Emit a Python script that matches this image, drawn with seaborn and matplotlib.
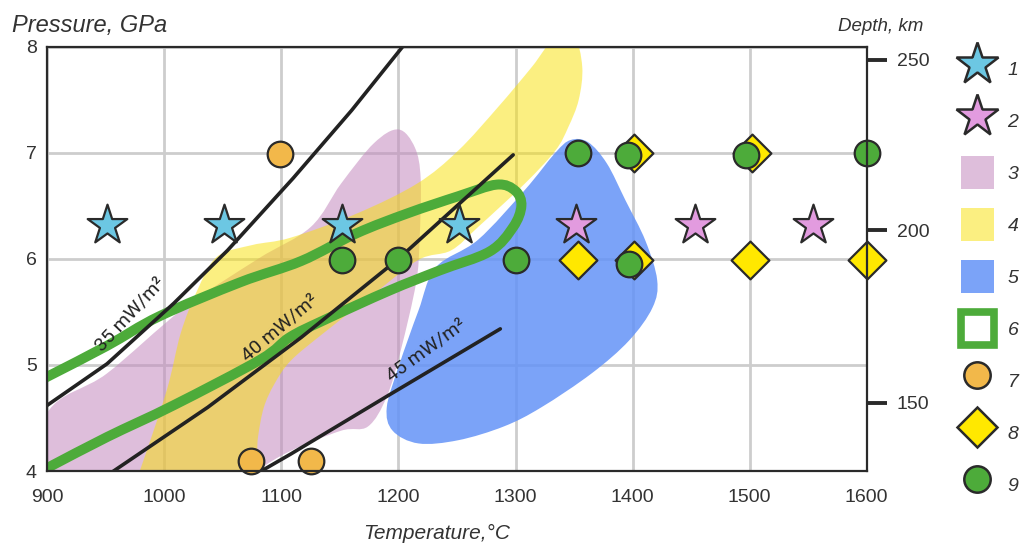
import numpy as np
import pandas as pd
import seaborn as sns
import matplotlib.pyplot as plt
from matplotlib.path import Path
from matplotlib.patches import PathPatch, Patch
from matplotlib.lines import Line2D

# ---- point estimates (temperature, degC / pressure, GPa) ----
star1_t = [951, 1051, 1152, 1252]
star1_p = [6.32, 6.32, 6.32, 6.32]
star2_t = [1352, 1453, 1554]
star2_p = [6.32, 6.32, 6.32]
orange_t = [1099, 1074, 1125]
orange_p = [6.99, 4.09, 4.09]
diamond_t = [1401, 1502, 1353, 1401, 1500, 1600]
diamond_p = [7.00, 7.00, 5.99, 5.99, 5.99, 5.99]
green_t = [1152, 1200, 1300, 1353, 1396, 1497, 1600, 1397]
green_p = [5.99, 5.99, 5.99, 7.00, 6.98, 6.98, 7.00, 5.95]

# ---- conductive geotherms ----
g35_t = [895, 900, 951, 1008, 1054, 1110, 1160, 1205]
g35_p = [4.58, 4.62, 5.01, 5.58, 6.08, 6.76, 7.40, 8.02]
g40_t = [950, 1037, 1117, 1200, 1298]
g40_p = [3.95, 4.60, 5.26, 6.00, 6.98]
g45_t = [1075, 1108, 1194, 1287]
g45_p = [3.95, 4.16, 4.73, 5.34]
geo_labels = ["35 mW/m²", "40 mW/m²", "45 mW/m²"]
geo_label_t = [971, 1099, 1224]
geo_label_p = [5.48, 5.35, 5.14]

# ---- P-T fields (outline vertices) ----
pink_t = [880, 900, 951, 1016, 1080, 1125, 1151, 1179, 1200, 1214, 1219, 1218,
          1215, 1202, 1190, 1174, 1151, 1108, 1080, 1060, 900]
pink_p = [3.70, 4.55, 4.92, 5.53, 6.00, 6.30, 6.71, 7.09, 7.22, 7.05, 6.75, 6.17,
          5.77, 5.14, 4.70, 4.42, 4.38, 4.19, 4.00, 3.75, 3.60]
yellow_t = [972, 979, 1002, 1014, 1028, 1045, 1075, 1108, 1165, 1216, 1251, 1285,
            1314, 1333, 1350, 1357, 1354, 1345, 1334, 1308, 1268, 1245, 1217,
            1179, 1136, 1108, 1094, 1085, 1080, 1077, 1060]
yellow_p = [3.80, 4.00, 4.76, 5.30, 5.70, 6.02, 6.13, 6.20, 6.43, 6.71, 7.02, 7.43,
            7.81, 8.08, 8.10, 7.81, 7.50, 7.24, 7.02, 6.71, 6.30, 6.08, 5.99,
            5.67, 5.30, 5.04, 4.82, 4.60, 4.32, 4.00, 3.70]
blue_t = [1232, 1268, 1308, 1334, 1347, 1362, 1378, 1394, 1411, 1421, 1417,
          1397, 1365, 1322, 1290, 1251, 1217, 1195, 1190, 1200, 1217]
blue_p = [5.92, 6.18, 6.65, 7.00, 7.12, 7.10, 6.90, 6.55, 6.17, 5.80, 5.54,
          5.23, 4.92, 4.60, 4.42, 4.29, 4.26, 4.38, 4.60, 4.98, 5.51]
loop_t = [870, 902, 951, 996, 1065, 1117, 1164, 1208, 1251, 1284, 1300, 1305,
          1298, 1278, 1235, 1192, 1136, 1107, 1082, 1008, 951, 902, 870]
loop_p = [4.72, 4.90, 5.18, 5.46, 5.78, 5.98, 6.24, 6.43, 6.59, 6.70, 6.64, 6.50,
          6.30, 6.07, 5.89, 5.70, 5.42, 5.26, 5.05, 4.62, 4.32, 4.04, 3.86]

# ---- depth scale on the right ----
depth_km = [150, 200, 250]
depth_gpa = [4.642, 6.271, 7.875]

legend_labels = ["1", "2", "3", "4", "5", "6", "7", "8", "9"]

# colours
c_star1 = "#6CC7E3"
c_star2 = "#E29BDF"
c_orange = "#F2B84A"
c_diamond = "#FFE800"
c_green = "#4DAB3A"
c_edge = "#2A2A2A"
c_pink, a_pink = "#C38ABE", 0.55
c_yellow, a_yellow = "#F9E105", 0.5
c_blue, a_blue = "#6493F7", 0.85


def smooth_path(t, p, closed=True):
    """Catmull-Rom curve through the vertices, expressed as cubic Beziers."""
    pts = np.column_stack([t, p]).astype(float)
    n = len(pts)
    verts = [pts[0]]
    codes = [Path.MOVETO]
    segs = n if closed else n - 1
    for i in range(segs):
        p0 = pts[(i - 1) % n] if (closed or i > 0) else pts[i]
        p1 = pts[i]
        p2 = pts[(i + 1) % n]
        p3 = pts[(i + 2) % n] if (closed or i + 2 < n) else pts[i + 1]
        verts += [p1 + (p2 - p0) / 6, p2 - (p3 - p1) / 6, p2]
        codes += [Path.CURVE4] * 3
    if closed:
        verts.append(pts[0])
        codes.append(Path.CLOSEPOLY)
    return Path(verts, codes)


sns.set_theme(style="whitegrid")
plt.rcParams["font.family"] = ["Liberation Sans", "DejaVu Sans"]

fig = plt.figure(figsize=(10.26, 5.47), dpi=100)
ax = fig.add_axes([47.3 / 1026, 1 - 471 / 547, (866.7 - 47.3) / 1026, (471 - 46.7) / 547])
ax.set_xlim(900, 1600)
ax.set_ylim(4, 8)
ax.set_xticks(range(900, 1601, 100))
ax.set_yticks(range(4, 9))
ax.grid(True, color="#CDCDCD", linewidth=2.0)
ax.set_axisbelow(True)
for sp in ax.spines.values():
    sp.set_visible(True)
    sp.set_color(c_edge)
    sp.set_linewidth(1.6)
    sp.set_zorder(6)
ax.tick_params(axis="both", length=0, labelsize=14, colors="#333333")
ax.tick_params(axis="y", pad=7.5)
ax.tick_params(axis="x", pad=13)

# P-T fields
ax.add_patch(PathPatch(smooth_path(blue_t, blue_p), facecolor=c_blue, alpha=a_blue,
                       edgecolor="none", zorder=1))
ax.add_patch(PathPatch(smooth_path(pink_t, pink_p), facecolor=c_pink, alpha=a_pink,
                       edgecolor="none", zorder=1.1))
ax.add_patch(PathPatch(smooth_path(yellow_t, yellow_p), facecolor=c_yellow, alpha=a_yellow,
                       edgecolor="none", zorder=1.2))
ax.add_patch(PathPatch(smooth_path(loop_t, loop_p, closed=False), facecolor="none",
                       edgecolor=c_green, linewidth=7.2, capstyle="butt", zorder=2))

# geotherms
for gt, gp in [(g35_t, g35_p), (g40_t, g40_p), (g45_t, g45_p)]:
    sns.lineplot(x=gt, y=gp, sort=False, estimator=None, color="#222222",
                 linewidth=2.6, ax=ax, zorder=3)
for lab, lt, lp, rot in zip(geo_labels, geo_label_t, geo_label_p, [47, 40, 36]):
    ax.text(lt, lp, lab, rotation=rot, rotation_mode="anchor", ha="center",
            va="center", fontsize=14, family="Roboto", color="#222222", zorder=4)

# points
pts_kw = dict(edgecolor=c_edge, linewidth=1.6, ax=ax, clip_on=False, legend=False)
sns.scatterplot(x=star1_t, y=star1_p, marker="*", s=900, color=c_star1, zorder=5, **pts_kw)
sns.scatterplot(x=star2_t, y=star2_p, marker="*", s=900, color=c_star2, zorder=5, **pts_kw)
sns.scatterplot(x=diamond_t, y=diamond_p, marker="D", s=370, color=c_diamond, zorder=5, **pts_kw)
sns.scatterplot(x=green_t, y=green_p, marker="o", s=340, color=c_green, zorder=5.1, **pts_kw)
sns.scatterplot(x=orange_t, y=orange_p, marker="o", s=340, color=c_orange, zorder=5.1, **pts_kw)

ax.set_xlabel("")
ax.set_ylabel("")

# depth axis
ax2 = ax.twinx()
ax2.set_ylim(4, 8)
ax2.set_yticks(depth_gpa, [str(d) for d in depth_km])
ax2.grid(False)
for sp in ax2.spines.values():
    sp.set_visible(False)
ax2.tick_params(axis="y", direction="out", length=14.5, width=2.8, color=c_edge,
                pad=7, labelsize=14, labelcolor="#333333")

# axis titles
fig.text(12 / 1026, 1 - 32 / 547, "Pressure, GPa", fontsize=17, style="italic",
         color="#333333", ha="left", va="baseline")
fig.text(838 / 1026, 1 - 31 / 547, "Depth, km", fontsize=13.5, style="italic",
         color="#333333", ha="left", va="baseline")
fig.text(437 / 1026, 1 - 539 / 547, "Temperature,°C", fontsize=15, style="italic",
         color="#333333", ha="center", va="baseline")

# legend
mk = dict(ls="none", markeredgecolor=c_edge, markeredgewidth=1.8)
handles = [
    Line2D([], [], marker="*", markersize=32, markerfacecolor=c_star1, **mk),
    Line2D([], [], marker="*", markersize=32, markerfacecolor=c_star2, **mk),
    Patch(facecolor=c_pink, alpha=a_pink, edgecolor="none"),
    Patch(facecolor=c_yellow, alpha=a_yellow, edgecolor="none"),
    Patch(facecolor=c_blue, alpha=a_blue, edgecolor="none"),
    Patch(facecolor="white", edgecolor=c_green, linewidth=5.5),
    Line2D([], [], marker="o", markersize=19, markerfacecolor=c_orange, **mk),
    Line2D([], [], marker="D", markersize=20, markerfacecolor=c_diamond, **mk),
    Line2D([], [], marker="o", markersize=19, markerfacecolor=c_green, **mk),
]
fig.legend(handles, legend_labels, loc="upper left",
           bbox_to_anchor=(960.5 / 1026, 1 - 52.5 / 547), frameon=False,
           borderpad=0, borderaxespad=0, handlelength=1.7, handleheight=2.24,
           handletextpad=0.72, labelspacing=0.97,
           prop={"style": "italic", "size": 14}, labelcolor="#333333")

fig.savefig("out.png", dpi=100)
